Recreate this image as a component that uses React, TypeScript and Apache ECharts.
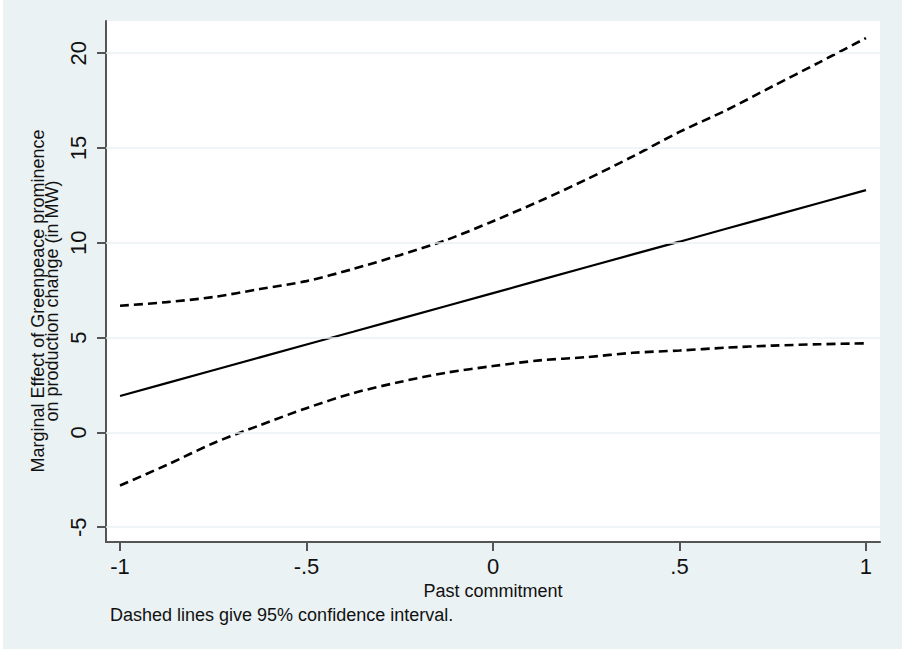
import React, { useEffect, useRef } from "react";
import * as echarts from "echarts";

const xValues = [-1, -0.875, -0.75, -0.625, -0.5, -0.375, -0.25, -0.125, 0, 0.125, 0.25, 0.375, 0.5, 0.625, 0.75, 0.875, 1];
const marginalEffect = [1.92, 2.6, 3.28, 3.96, 4.64, 5.31, 5.99, 6.67, 7.35, 8.03, 8.71, 9.39, 10.06, 10.74, 11.42, 12.1, 12.78];
const upperCI = [6.68, 6.87, 7.14, 7.56, 7.98, 8.62, 9.35, 10.15, 11.14, 12.2, 13.34, 14.56, 15.85, 16.99, 18.26, 19.52, 20.8];
const lowerCI = [-2.8, -1.72, -0.57, 0.38, 1.28, 2.07, 2.66, 3.15, 3.5, 3.8, 3.97, 4.2, 4.32, 4.47, 4.58, 4.65, 4.7];
const xTicks = [-1, -0.5, 0, 0.5, 1];
const xTickLabels = ["-1", "-.5", "0", ".5", "1"];
const yTicks = [-5, 0, 5, 10, 15, 20];
const yTickLabels = ["-5", "0", "5", "10", "15", "20"];

const FONT = "'Liberation Sans', Arial, sans-serif";
const BG = "#EAF2F3";
const TEXT = "#111111";
const AXIS = "#555555";

export default function App() {
  const ref = useRef<HTMLDivElement>(null);
  useEffect(() => {
    if (!ref.current) return;
    const chart = echarts.init(ref.current, undefined, { renderer: "svg" });
    const pair = (arr: number[]) => xValues.map((x, i) => [x, arr[i]]);
    chart.setOption({
      animation: false,
      backgroundColor: BG,
      grid: {
        left: 103,
        right: 22,
        top: 21,
        bottom: 107,
        show: true,
        backgroundColor: "#ffffff",
        borderWidth: 0,
      },
      xAxis: {
        type: "value",
        min: -1.0376,
        max: 1.0376,
        name: "Past commitment",
        nameLocation: "middle",
        nameGap: 35,
        nameTextStyle: { fontFamily: FONT, fontSize: 18, color: TEXT },
        axisLine: { show: true, onZero: false, lineStyle: { color: AXIS, width: 2 } },
        axisTick: { show: true, length: 9, customValues: xTicks, lineStyle: { color: AXIS, width: 2 } },
        axisLabel: {
          customValues: xTicks,
          margin: 13,
          fontFamily: FONT,
          fontSize: 22,
          color: TEXT,
          formatter: (v: number) => {
            const i = xTicks.findIndex((t) => Math.abs(t - v) < 1e-9);
            return i >= 0 ? xTickLabels[i] : "";
          },
        },
        splitLine: { show: false },
      },
      yAxis: {
        type: "value",
        min: -5.78,
        max: 21.7,
        axisLine: { show: true, onZero: false, lineStyle: { color: AXIS, width: 2 } },
        axisTick: { show: true, length: 9, customValues: yTicks, lineStyle: { color: AXIS, width: 2 } },
        axisLabel: {
          customValues: yTicks,
          rotate: 90,
          margin: 17,
          fontFamily: FONT,
          fontSize: 22,
          color: TEXT,
          formatter: (v: number) => {
            const i = yTicks.findIndex((t) => Math.abs(t - v) < 1e-9);
            return i >= 0 ? yTickLabels[i] : "";
          },
        },
        splitLine: { show: false },
      },
      graphic: [
        {
          type: "text",
          x: 42,
          y: 301,
          rotation: Math.PI / 2,
          style: {
            text: "Marginal Effect of Greenpeace prominence\non production change (in MW)",
            font: `18px ${FONT}`,
            fill: TEXT,
            textAlign: "center",
            textVerticalAlign: "middle",
            lineHeight: 14,
          },
        },
        {
          type: "text",
          x: 107,
          y: 615,
          style: {
            text: "Dashed lines give 95% confidence interval.",
            font: `18px ${FONT}`,
            fill: TEXT,
            textAlign: "left",
            textVerticalAlign: "middle",
          },
        },
      ],
      series: [
        {
          type: "line",
          data: [],
          z: 1,
          silent: true,
          markLine: {
            silent: true,
            symbol: "none",
            label: { show: false },
            lineStyle: { color: BG, width: 1.5, type: "solid" },
            data: yTicks.map((v) => ({ yAxis: v })),
          },
        },
        {
          type: "line",
          data: pair(upperCI),
          z: 3,
          showSymbol: false,
          smooth: 0.3,
          lineStyle: { color: "#000000", width: 2.6, type: [9, 5] },
        },
        {
          type: "line",
          data: pair(marginalEffect),
          z: 3,
          showSymbol: false,
          lineStyle: { color: "#000000", width: 2.2, type: "solid" },
        },
        {
          type: "line",
          data: pair(lowerCI),
          z: 3,
          showSymbol: false,
          smooth: 0.3,
          lineStyle: { color: "#000000", width: 2.6, type: [9, 5] },
        },
      ],
    });
    return () => chart.dispose();
  }, []);
  return (
    <div
      ref={ref}
      style={{ position: "fixed", left: 3, top: 0, width: 899, height: 649 }}
    />
  );
}
